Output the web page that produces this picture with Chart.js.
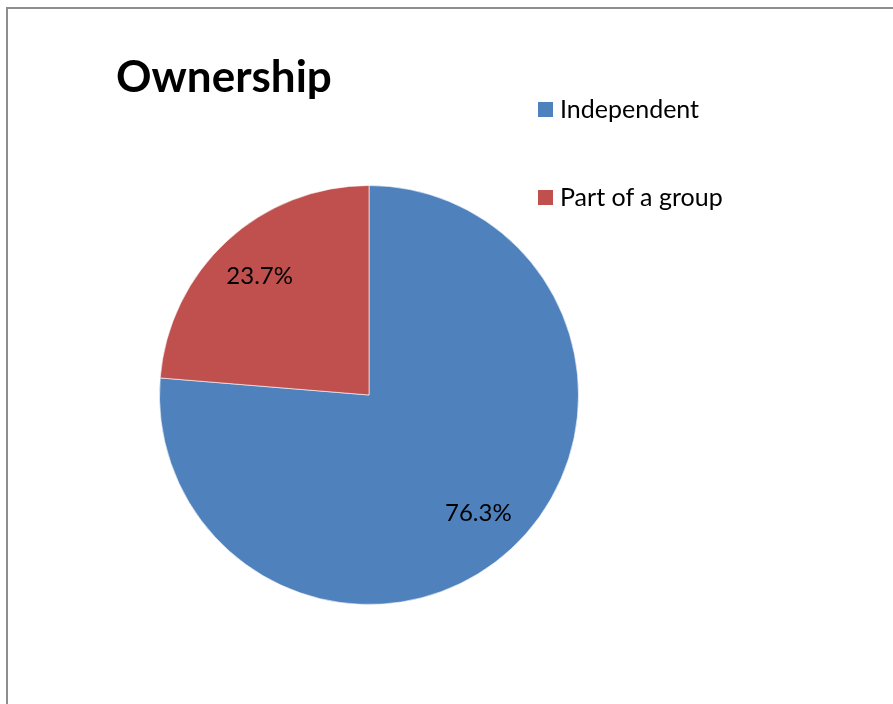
<!DOCTYPE html>
<html>
<head>
<meta charset="utf-8">
<script src="https://cdn.jsdelivr.net/npm/chart.js@4/dist/chart.umd.min.js"></script>
<style>
  html, body { margin: 0; padding: 0; background: #fff; }
  body { width: 893px; height: 704px; position: relative; overflow: hidden; font-family: Lato, "Open Sans", sans-serif; }
  #frame { position: absolute; left: 6px; top: 7px; width: 900px; height: 720px; border: 2px solid #8e8e8e; box-sizing: border-box; }
  #wrap { position: absolute; left: 0; top: 0; width: 893px; height: 704px; }
  #title { position: absolute; left: 116px; top: 49px; font-weight: bold; font-size: 44px; color: #000; white-space: nowrap; }
  .leg { position: absolute; left: 538px; font-size: 25px; color: #000; white-space: nowrap; line-height: 30px; }
  .leg span.sw { display: inline-block; width: 15px; height: 15px; margin-right: 7px; vertical-align: 1px; }
</style>
</head>
<body>
<div id="frame"></div>
<div id="wrap"><canvas id="c" width="893" height="704"></canvas></div>
<div id="title">Ownership</div>
<div id="legend"></div>
<script>
const categories = ["Independent", "Part of a group"];
const shares = [76.3, 23.7];
const colors = ["#4F81BD", "#C0504D"];

// legend entries as HTML text
const legendEl = document.getElementById('legend');
const legendTops = [93, 181];
categories.forEach((name, i) => {
  const d = document.createElement('div');
  d.className = 'leg';
  d.style.top = legendTops[i] + 'px';
  d.innerHTML = '<span class="sw" style="background:' + colors[i] + '"></span>' + name;
  legendEl.appendChild(d);
});

// percentage labels inside each slice
const sliceLabels = {
  id: 'sliceLabels',
  afterDatasetsDraw(chart) {
    const ctx = chart.ctx;
    const meta = chart.getDatasetMeta(0);
    ctx.save();
    ctx.font = '24px Lato, "Open Sans", sans-serif';
    ctx.fillStyle = '#000';
    ctx.textAlign = 'center';
    ctx.textBaseline = 'middle';
    meta.data.forEach((arc, i) => {
      const mid = (arc.startAngle + arc.endAngle) / 2;
      const r = arc.outerRadius * 0.77;
      const x = arc.x + Math.cos(mid) * r;
      const y = arc.y + Math.sin(mid) * r;
      ctx.fillText(shares[i].toFixed(1) + '%', x, y);
    });
    ctx.restore();
  }
};

new Chart(document.getElementById('c'), {
  type: 'pie',
  data: {
    labels: categories,
    datasets: [{
      data: shares,
      backgroundColor: colors,
      borderColor: 'rgba(255,255,255,0.6)',
      borderWidth: 1
    }]
  },
  options: {
    responsive: false,
    animation: false,
    layout: { padding: { left: 159, right: 314, top: 185, bottom: 99 } },
    plugins: {
      legend: { display: false },
      title: { display: false },
      tooltip: { enabled: false }
    }
  },
  plugins: [sliceLabels]
});
</script>
</body>
</html>
